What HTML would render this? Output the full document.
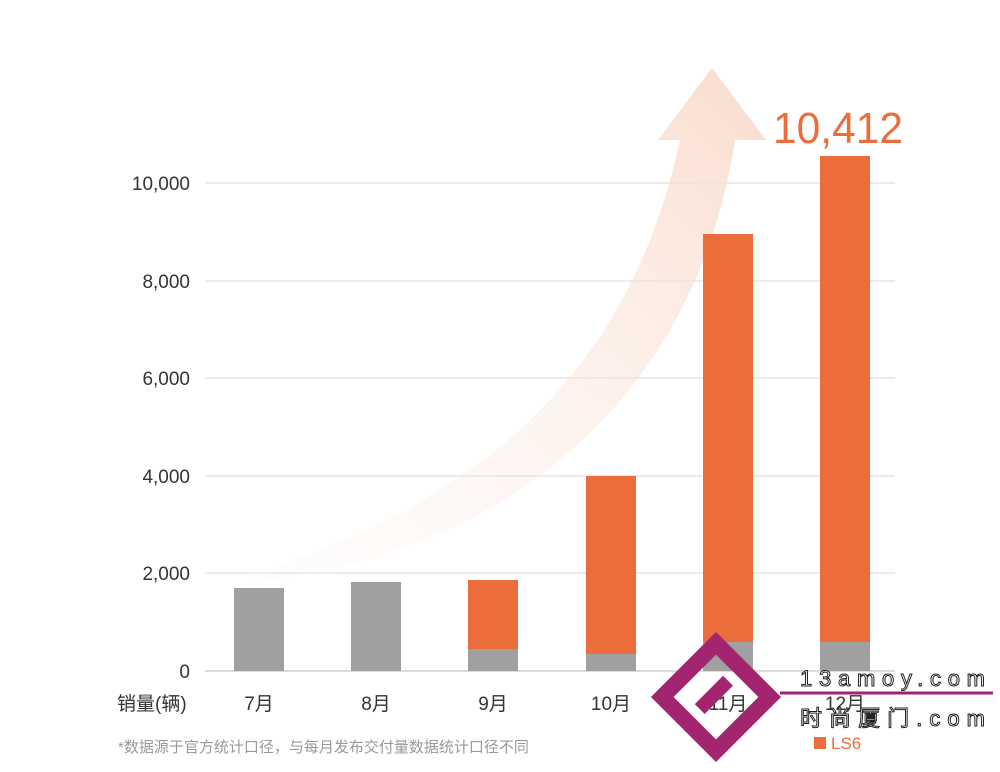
<!DOCTYPE html>
<html><head><meta charset="utf-8"><style>
body{margin:0;background:#fff;}
svg text{font-family:"Liberation Sans","Noto Sans CJK SC",sans-serif;}
</style></head><body>
<svg width="1000" height="767" viewBox="0 0 1000 767" xmlns="http://www.w3.org/2000/svg">
<defs>
<linearGradient id="g" x1="0" y1="1" x2="1" y2="0">
<stop offset="0" stop-color="#fdf0ea" stop-opacity="0.1"/>
<stop offset="0.6" stop-color="#fbe4d9" stop-opacity="0.6"/>
<stop offset="1" stop-color="#f9d8c8" stop-opacity="0.9"/>
</linearGradient>
</defs>
<rect width="1000" height="767" fill="#fff"/>
<path d="M250,575 C420,520 620,420 680,140 L658,140 L712,68 L766,140 L735,140 C690,430 470,555 270,580 Z" fill="url(#g)"/>
<g stroke="#e6e6e6" stroke-width="1.5">
<line x1="205" y1="183" x2="895" y2="183"/>
<line x1="205" y1="281" x2="895" y2="281"/>
<line x1="205" y1="378" x2="895" y2="378"/>
<line x1="205" y1="476" x2="895" y2="476"/>
<line x1="205" y1="573" x2="895" y2="573"/>
<line x1="205" y1="671" x2="895" y2="671" stroke="#d0d0d0"/>
</g>
<g font-size="19" fill="#333" text-anchor="end">
<text x="190" y="190">10,000</text>
<text x="190" y="288">8,000</text>
<text x="190" y="385">6,000</text>
<text x="190" y="483">4,000</text>
<text x="190" y="580">2,000</text>
<text x="190" y="678">0</text>
</g>
<g fill="#a0a0a0">
<rect x="234" y="588" width="50" height="83"/>
<rect x="351" y="582" width="50" height="89"/>
<rect x="468" y="649" width="50" height="22"/>
<rect x="586" y="654" width="50" height="17"/>
<rect x="703" y="642" width="50" height="29"/>
<rect x="820" y="642" width="50" height="29"/>
</g>
<g fill="#ec6d3c">
<rect x="468" y="580" width="50" height="69"/>
<rect x="586" y="476" width="50" height="178"/>
<rect x="703" y="234" width="50" height="408"/>
<rect x="820" y="156" width="50" height="486"/>
</g>
<text x="838" y="143" font-size="44" fill="#ec6d3c" text-anchor="middle" textLength="130" lengthAdjust="spacingAndGlyphs">10,412</text>
<g font-size="19" fill="#333">
<text x="117" y="710">销量(辆)</text>
<text x="259" y="710" text-anchor="middle">7月</text>
<text x="376" y="710" text-anchor="middle">8月</text>
<text x="493" y="710" text-anchor="middle">9月</text>
<text x="611" y="710" text-anchor="middle">10月</text>
<text x="728" y="710" text-anchor="middle">11月</text>
<text x="845" y="710" text-anchor="middle">12月</text>
</g>
<text x="118" y="752" font-size="15" fill="#999">*数据源于官方统计口径，与每月发布交付量数据统计口径不同</text>
<rect x="814" y="737" width="12" height="12" fill="#ec6d3c"/>
<text x="831" y="749" font-size="17" fill="#ec6d3c">LS6</text>
<g transform="translate(716,697) rotate(45)">
<rect x="-38" y="-38" width="76" height="76" fill="none" stroke="#a3246f" stroke-width="16"/>
<rect x="-10" y="-20" width="14" height="40" fill="#a3246f"/>
</g>
<line x1="780" y1="693" x2="993" y2="693" stroke="#a3246f" stroke-width="3"/>
<g font-size="22" fill="#fff" stroke="#222" stroke-width="1">
<text x="800" y="686" font-family="Liberation Mono,monospace" textLength="185" lengthAdjust="spacing">13amoy.com</text>
<text x="800" y="726" textLength="185" lengthAdjust="spacing">时尚厦门.com</text>
</g>
</svg>
</body></html>
